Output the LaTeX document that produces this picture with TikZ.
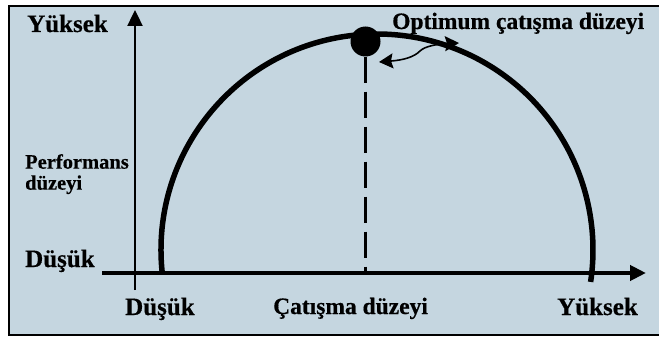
\documentclass[tikz,border=0pt]{standalone}
\usepackage{fontspec}
\setmainfont{Liberation Serif}[BoldFeatures={FakeBold=0.5}]
\usepackage{xcolor}
\usepackage{tikz}
\usetikzlibrary{arrows.meta, positioning}
\definecolor{panelfill}{HTML}{C5D6E0}
\definecolor{inkcolor}{HTML}{000000}
\newcommand{\bigfont}{\fontsize{25}{28}\selectfont\bfseries}
\newcommand{\midfont}{\fontsize{23.5}{26}\selectfont\bfseries}
\newcommand{\smallfont}{\fontsize{20.5}{21}\selectfont\bfseries}

\begin{document}
\begin{tikzpicture}[
        x=1pt, y=1pt,
        lbl/.style={inner sep=0pt, anchor=base west, text=inkcolor},
        axis/.style={draw=inkcolor, -{Triangle[length=16pt, width=15pt]}},
        curve/.style={draw=inkcolor, line width=5.5pt},
        swing/.style={draw=inkcolor, line width=1.6pt, {Stealth[length=14pt, width=15pt, inset=2pt]}-{Stealth[length=14pt, width=15pt, inset=2pt]}}
    ]
        \useasboundingbox (0,0) rectangle (659,338);
        % Panel
        \draw[fill=panelfill, line width=2pt] (9,3) rectangle (664,332);

        % Axes
        \coordinate (xstart) at (102,65);
        \coordinate (xend) at (646,65);
        \coordinate (ystart) at (135,48);
        \coordinate (yend) at (135,328);
        \draw[axis, line width=4pt] (xstart) -- (xend);
        \draw[axis, line width=2.4pt] (ystart) -- (yend);

        % Curve
        \draw[curve] (377,88) ++(186:216) arc[start angle=186, end angle=-8.5, radius=216];

        % Optimum
        \node[circle, fill=inkcolor, inner sep=0pt, minimum size=30pt] (optdot) at (365.5,296.5) {};
        \coordinate (optfoot) at (optdot.center |- xstart);
        \draw[draw=inkcolor, line width=2.2pt, dash pattern=on 26pt off 9pt] (optdot.south) -- (optfoot);
        \coordinate (swingL) at (379,276);
        \coordinate (swingR) at (459,295);
        \draw[swing] (swingL) .. controls (404,278) and (414,281) .. (420,287)
            .. controls (425,292) and (438,294) .. (swingR);

        % Labels
        \node[lbl, font=\bigfont] (yhigh) at (27,306) {Yüksek};
        \node[lbl, font=\bigfont] (ylow) at (25,71) {Düşük};
        \node[lbl, font=\smallfont, align=left, anchor=north west] (ytitle) at (25,184) {Performans\\düzeyi};
        \node[lbl, font=\bigfont] (xlow) at (125,23) {Düşük};
        \node[lbl, font=\midfont] (xtitle) at (273,24) {Çatışma düzeyi};
        \node[lbl, font=\bigfont] (xhigh) at (557,23) {Yüksek};
        \node[lbl, font=\midfont] (opttitle) at (392,309) {Optimum çatışma düzeyi};
    \end{tikzpicture}
\end{document}
